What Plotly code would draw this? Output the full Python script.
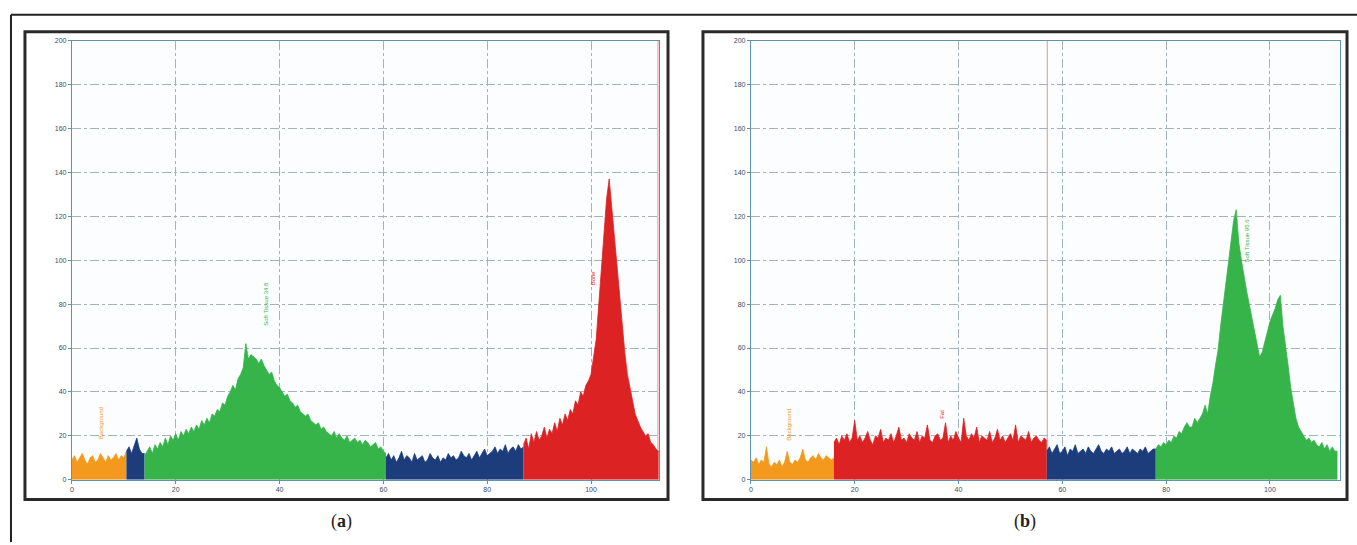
import plotly.graph_objects as go

W, H = 1357, 545
STEP = 0.5

# ---------------- Panel (a) data: samples every 0.5 ----------------
a_orange_start = 0.0
a_orange = [9, 11, 8, 10, 12, 9, 7, 10, 11, 8, 9, 12, 10, 8, 11, 9, 10, 12, 9, 11, 10, 13]
a_blue1_start = 10.5
a_blue1 = [13, 15, 12, 16, 19, 14, 12, 12]
a_green_start = 14.0
a_green = [11, 13, 15, 12, 16, 14, 17, 15, 19, 16, 20, 18, 21, 18, 22, 20, 23, 21, 24, 22,
           25, 23, 27, 25, 28, 26, 30, 29, 32, 31, 35, 34, 38, 40, 43, 41, 46, 48, 51, 62,
           55, 57, 56, 55, 53, 55, 52, 50, 48, 49, 45, 43, 42, 40, 38, 39, 36, 35, 33, 34,
           31, 30, 29, 30, 27, 26, 25, 26, 23, 24, 22, 21, 20, 22, 19, 21, 19, 18, 20, 17,
           18, 19, 17, 18, 16, 18, 17, 15, 16, 17, 14, 15, 13, 12]
a_blue2_start = 60.5
a_blue2 = [10, 12, 9, 11, 8, 10, 13, 9, 11, 10, 8, 12, 9, 10, 11, 8, 9, 12, 10, 9,
           11, 8, 10, 9, 12, 10, 11, 9, 10, 13, 11, 10, 12, 9, 11, 13, 10, 12, 14, 11,
           12, 13, 15, 12, 14, 13, 16, 12, 14, 15, 13, 16, 14, 15]
a_red_start = 87.0
a_red = [16, 19, 14, 21, 17, 22, 18, 20, 24, 19, 23, 21, 26, 22, 28, 25, 30, 27, 32, 30,
         36, 34, 40, 38, 43, 45, 48, 55, 64, 80, 96, 115, 128, 137, 124, 110, 98, 86, 70, 58,
         48, 42, 36, 30, 27, 24, 22, 20, 21, 17, 16, 14, 13]

# ---------------- Panel (b) data ----------------
b_orange_start = 0.0
b_orange = [9, 8, 10, 7, 9, 8, 15, 7, 6, 8, 7, 9, 6, 8, 13, 8, 7, 9, 8, 10,
            14, 9, 8, 10, 11, 9, 12, 10, 9, 11, 10, 9, 10]
b_red_start = 16.0
b_red = [17, 19, 16, 20, 18, 21, 17, 19, 27, 18, 20, 17, 19, 22, 18, 16, 20, 19, 23, 17,
         19, 18, 21, 17, 20, 24, 18, 19, 17, 21, 19, 18, 22, 17, 20, 19, 25, 18, 17, 20,
         21, 18, 19, 26, 17, 20, 18, 22, 19, 17, 28, 20, 18, 21, 19, 24, 17, 20, 19, 18,
         22, 17, 19, 23, 18, 20, 17, 19, 21, 18, 25, 17, 20, 19, 18, 22, 17, 19, 20, 18, 17, 19, 18]
b_blue_start = 57.0
b_blue = [13, 15, 12, 14, 16, 12, 13, 15, 11, 14, 13, 16, 12, 13, 14, 12, 15, 13, 12, 14,
          16, 13, 12, 14, 13, 15, 12, 13, 14, 12, 13, 15, 12, 14, 13, 12, 14, 13, 15, 12, 13, 14, 14]
b_green_start = 78.0
b_green = [14, 16, 15, 17, 16, 18, 17, 20, 19, 22, 21, 24, 26, 24, 24, 28, 26, 28, 30, 34,
           30, 38, 44, 52, 59, 70, 80, 88, 100, 110, 118, 123, 108, 100, 92, 86, 80, 74, 68, 62,
           56, 58, 63, 68, 72, 75, 78, 82, 84, 70, 62, 52, 42, 34, 28, 24, 22, 20, 18, 19,
           17, 18, 16, 15, 17, 14, 16, 13, 15, 13, 13]

y_ticks = [0, 20, 40, 60, 80, 100, 120, 140, 160, 180, 200]
x_ticks = [0, 20, 40, 60, 80, 100]

ORANGE = "#f39a1e"
NAVY = "#1c3c7c"
GREEN = "#36b44a"
RED = "#dc2222"

labels_a = [("Background", 5.5, 26, ORANGE), ("Soft Tissue 34.8", 37.5, 80, GREEN), ("Bone", 100.3, 92, RED)]
labels_b = [("Background", 7.3, 25, ORANGE), ("Fat", 36.8, 30, RED), ("Soft Tissue 95.6", 95.6, 109, GREEN)]

fig = go.Figure()


def add_seg(start, vals, color, xa, ya):
    xs = [start + STEP * i for i in range(len(vals))]
    fig.add_trace(go.Scatter(x=xs, y=vals, mode="lines", fill="tozeroy", fillcolor=color,
                             line=dict(color=color, width=0.8), xaxis=xa, yaxis=ya,
                             showlegend=False, hoverinfo="x+y"))


for s, v, c in [(a_orange_start, a_orange, ORANGE), (a_blue1_start, a_blue1, NAVY),
                (a_green_start, a_green, GREEN), (a_blue2_start, a_blue2, NAVY),
                (a_red_start, a_red, RED)]:
    add_seg(s, v, c, "x", "y")
for s, v, c in [(b_orange_start, b_orange, ORANGE), (b_red_start, b_red, RED),
                (b_blue_start, b_blue, NAVY), (b_green_start, b_green, GREEN)]:
    add_seg(s, v, c, "x2", "y2")

AX = "#5f93ab"
GRID = "#9fb3c0"
TICKF = dict(family="Liberation Sans, Arial", size=7, color="#3a4a66")


def px(x):
    return x / W


def py(y):
    return 1 - y / H


common_x = dict(tickvals=x_ticks, showgrid=True, gridcolor=GRID, griddash="dashdot", gridwidth=1,
                showline=True, linecolor=AX, linewidth=1, mirror=True, ticks="outside", ticklen=3,
                tickcolor=AX, tickfont=TICKF, zeroline=False, fixedrange=True)
common_y = dict(tickvals=y_ticks, range=[0, 200], showgrid=True, gridcolor=GRID, griddash="dashdot",
                gridwidth=1, showline=True, linecolor=AX, linewidth=1, mirror=True, ticks="outside",
                ticklen=3, tickcolor=AX, tickfont=TICKF, zeroline=False, fixedrange=True)

fig.update_layout(
    width=W, height=H, margin=dict(l=0, r=0, t=0, b=0),
    paper_bgcolor="white", plot_bgcolor="#fbfdfe", showlegend=False,
    xaxis=dict(domain=[px(70), px(658)], range=[0, 113.1], anchor="y", **common_x),
    yaxis=dict(domain=[py(482), py(37)], anchor="x", **common_y),
    xaxis2=dict(domain=[px(750), px(1340)], range=[0, 113.5], anchor="y2", **common_x),
    yaxis2=dict(domain=[py(482), py(37)], anchor="x2", **common_y),
)

shapes = []
shapes.append(dict(type="line", xref="paper", yref="paper", x0=px(9), x1=1.0, y0=py(11), y1=py(11),
                   line=dict(color="#222", width=2)))
shapes.append(dict(type="line", xref="paper", yref="paper", x0=px(9), x1=px(9), y0=py(11), y1=0,
                   line=dict(color="#222", width=2)))
for x0, x1, y0, y1 in [(23, 667, 28, 502), (702, 1347, 28, 502)]:
    shapes.append(dict(type="rect", xref="paper", yref="paper", x0=px(x0), x1=px(x1), y0=py(y1), y1=py(y0),
                       line=dict(color="#2a2a2a", width=3), layer="below"))
shapes.append(dict(type="line", xref="x2", yref="y2", x0=57.1, x1=57.1, y0=0, y1=200,
                   line=dict(color="rgba(220,60,60,0.55)", width=1), layer="below"))
shapes.append(dict(type="line", xref="x", yref="y", x0=112.9, x1=112.9, y0=0, y1=200,
                   line=dict(color="rgba(220,60,60,0.55)", width=1), layer="below"))
fig.update_layout(shapes=shapes)

ann = []
for txt, x, y, c in labels_a:
    ann.append(dict(x=x, y=y, xref="x", yref="y", text=txt, showarrow=False, textangle=-90,
                    font=dict(family="Liberation Sans", size=6, color=c)))
for txt, x, y, c in labels_b:
    ann.append(dict(x=x, y=y, xref="x2", yref="y2", text=txt, showarrow=False, textangle=-90,
                    font=dict(family="Liberation Sans", size=6, color=c)))
for txt, xp_, yp_ in [("(<b>a</b>)", 340, 524), ("(<b>b</b>)", 1025, 524)]:
    ann.append(dict(x=px(xp_), y=py(yp_), xref="paper", yref="paper", text=txt, showarrow=False,
                    xanchor="center", yanchor="middle",
                    font=dict(family="Liberation Serif, Times New Roman", size=18, color="#222")))
fig.update_layout(annotations=ann)

fig.write_html("out.html", config={"displayModeBar": False},
               post_script="document.body.style.margin='0';document.body.style.overflow='hidden';")
